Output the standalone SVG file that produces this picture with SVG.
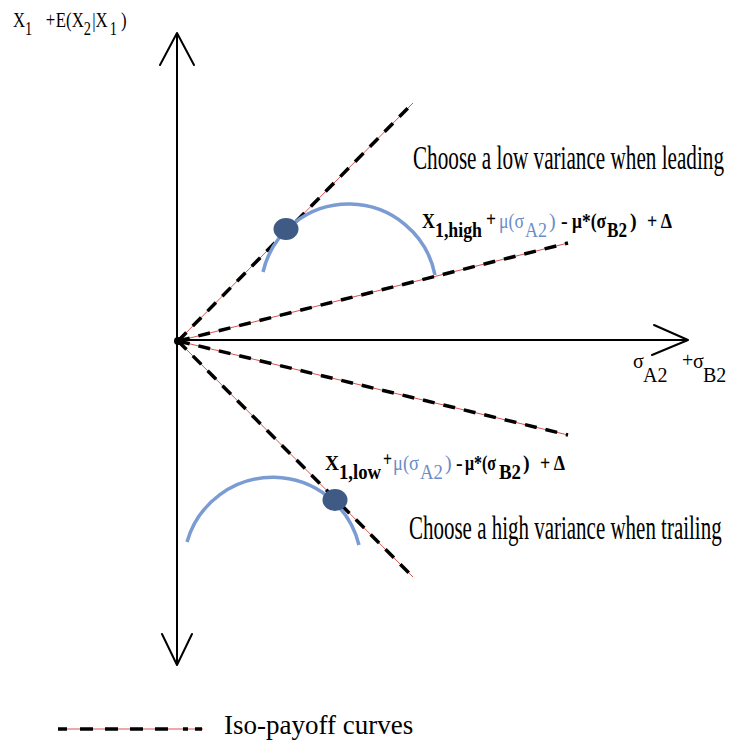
<svg xmlns="http://www.w3.org/2000/svg" width="734" height="742" viewBox="0 0 734 742">
<defs>
<style>
.axis{stroke:#000;stroke-width:2;fill:none;stroke-linecap:round;stroke-linejoin:round}
.red{stroke:#d9534f;stroke-width:1;fill:none}
.dash{stroke:#000;stroke-width:3.5;fill:none;stroke-dasharray:12 9}
.arc{stroke:#7b9bd3;stroke-width:3.5;fill:none}
.dot{fill:#3e5a85}
.serif{font-family:"Liberation Serif","Times New Roman",serif;fill:#000}
.b{font-weight:bold}
.blue{fill:#6a8cc8}
</style>
</defs>
<rect width="734" height="742" fill="#fff"/>
<g id="connectors">
  <g id="axes">
    <line class="axis" x1="177" y1="34" x2="177" y2="664"/>
    <polyline class="axis" points="160,65 177,33 194,65"/>
    <polyline class="axis" points="162,634 177,665 192,634"/>
    <line class="axis" x1="177" y1="340" x2="687" y2="340"/>
    <polyline class="axis" points="654,325 688,340 652,355"/>
  </g>
  <g id="iso-lines">
    <line class="red" x1="178" y1="341" x2="413" y2="103"/>
    <line class="dash" x1="178" y1="341" x2="413" y2="103"/>
    <line class="red" x1="178" y1="341" x2="568" y2="243"/>
    <line class="dash" x1="178" y1="341" x2="568" y2="243"/>
    <line class="red" x1="178" y1="341" x2="568" y2="435"/>
    <line class="dash" x1="178" y1="341" x2="568" y2="435"/>
    <line class="red" x1="178" y1="341" x2="413" y2="577"/>
    <line class="dash" x1="178" y1="341" x2="413" y2="577"/>
  </g>
  <g id="arcs">
    <path class="arc" d="M263,272 A88,88 0 0 1 435,275"/>
    <path class="arc" d="M187,542 A89,89 0 0 1 359,545"/>
  </g>
</g>
<g id="origin"><circle cx="178" cy="341" r="4" fill="#000"/></g>
<g id="dot-high"><ellipse class="dot" cx="286" cy="229" rx="12.5" ry="11"/></g>
<g id="dot-low"><ellipse class="dot" cx="335" cy="500" rx="12.5" ry="11"/></g>

<g id="label-y" class="serif" font-size="21" transform="translate(13,27) scale(0.8,1)">
  <text x="0" y="0">X</text>
  <text x="15" y="8" font-size="18">1</text>
  <text x="41" y="0">+</text>
  <text x="53.5" y="0">E(X</text>
  <text x="88.5" y="8" font-size="18">2</text>
  <text x="99" y="0">|X</text>
  <text x="121" y="8" font-size="18">1</text>
  <text x="135" y="0">)</text>
</g>

<g id="label-x" class="serif" font-size="20">
  <text x="633" y="368">σ</text>
  <text x="643" y="382">A2</text>
  <text x="682" y="367">+</text>
  <text x="693" y="368">σ</text>
  <text x="703" y="382">B2</text>
</g>

<g id="label-leading" transform="translate(413,169) scale(0.623,1)"><text class="serif" x="0" y="0" font-size="34">Choose a low variance when leading</text></g>
<g id="label-trailing" transform="translate(409,539) scale(0.617,1)"><text class="serif" x="0" y="0" font-size="34">Choose a high variance when trailing</text></g>

<g id="formula-high" class="serif" font-size="20">
  <text class="b" x="422" y="228" textLength="13" lengthAdjust="spacingAndGlyphs">X</text>
  <text class="b" x="435" y="237" textLength="47" lengthAdjust="spacingAndGlyphs">1,high</text>
  <text class="b" x="486" y="226" textLength="10" lengthAdjust="spacingAndGlyphs">+</text>
  <text class="blue" x="499" y="228" textLength="25" lengthAdjust="spacingAndGlyphs">μ(σ</text>
  <text class="blue" x="525" y="237" textLength="22" lengthAdjust="spacingAndGlyphs">A2</text>
  <text class="blue" x="549" y="228">)</text>
  <text class="b" x="561" y="228">-</text>
  <text class="b" x="572" y="228" textLength="34" lengthAdjust="spacingAndGlyphs">μ*(σ</text>
  <text class="b" x="607" y="237" textLength="20" lengthAdjust="spacingAndGlyphs">B2</text>
  <text class="b" x="630" y="228">)</text>
  <text class="b" x="647" y="228" textLength="25" lengthAdjust="spacingAndGlyphs">+ Δ</text>
</g>

<g id="formula-low" class="serif" font-size="20">
  <text class="b" x="325" y="470" textLength="14" lengthAdjust="spacingAndGlyphs">X</text>
  <text class="b" x="339" y="479" textLength="42" lengthAdjust="spacingAndGlyphs">1,low</text>
  <text class="b" x="383" y="466" textLength="9" lengthAdjust="spacingAndGlyphs">+</text>
  <text class="blue" x="393" y="470" textLength="26" lengthAdjust="spacingAndGlyphs">μ(σ</text>
  <text class="blue" x="420" y="479" textLength="23" lengthAdjust="spacingAndGlyphs">A2</text>
  <text class="blue" x="445" y="470">)</text>
  <text class="b" x="456" y="470">-</text>
  <text class="b" x="465" y="470" textLength="31" lengthAdjust="spacingAndGlyphs">μ*(σ</text>
  <text class="b" x="499" y="479" textLength="22" lengthAdjust="spacingAndGlyphs">B2</text>
  <text class="b" x="523" y="470">)</text>
  <text class="b" x="540" y="470" textLength="25" lengthAdjust="spacingAndGlyphs">+ Δ</text>
</g>

<g id="legend">
  <line class="red" x1="58" y1="729" x2="203" y2="729"/>
  <line x1="58" y1="729" x2="203" y2="729" stroke="#000" stroke-width="3.5" stroke-dasharray="9 13 13 12 13 12 13 12 13 15 5 7 7 100"/>
  <text class="serif" x="224" y="734" font-size="27">Iso-payoff curves</text>
</g>
</svg>
